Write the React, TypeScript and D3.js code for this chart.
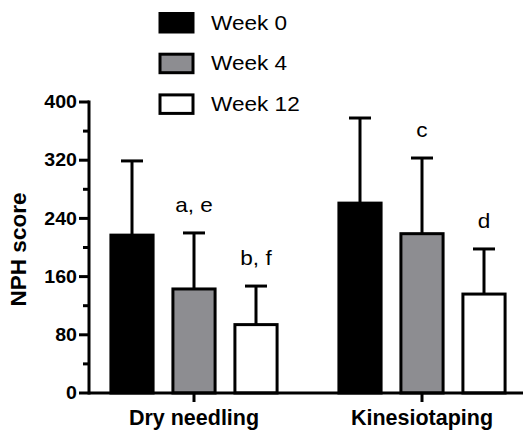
import * as d3 from "d3";

const groups = ["Dry needling", "Kinesiotaping"];
const series = ["Week 0", "Week 4", "Week 12"];
const means = [
  [217, 143, 94],
  [261, 219, 136],
];
const errTops = [
  [319, 220, 147],
  [378, 323, 198],
];
const notes = [
  ["", "a, e", "b, f"],
  ["", "c", "d"],
];
const yTicks = [0, 80, 160, 240, 320, 400];
const fills = ["#000000", "#8d8d91", "#ffffff"];

const W = 523;
const H = 432;

export default function App() {
  const y = d3.scaleLinear().domain([0, 400]).range([393, 102]);
  const x0 = d3.scaleBand<string>().domain(groups).range([80, 536]);
  const x1 = d3
    .scaleBand<string>()
    .domain(series)
    .range([-93, 93])
    .paddingInner(0.32)
    .paddingOuter(0.16);
  const minor = d3.range(40, 400, 80);
  const axisX = 89;
  const font = "Liberation Sans, Arial, Helvetica, sans-serif";

  return (
    <svg
      width={W}
      height={H}
      style={{ position: "absolute", left: 0, top: 0, background: "#fff" }}
      fontFamily={font}
    >
      {/* legend */}
      {series.map((s, i) => (
        <g key={s} transform={`translate(0, ${i * 40.7})`}>
          <rect x={160} y={13.5} width={33} height={18.5} fill={fills[i]} stroke="#000" strokeWidth={3} />
          <text transform={`translate(211, ${29.5}) scale(1.13, 1)`} fontSize={20}>
            {s}
          </text>
        </g>
      ))}

      {/* bars */}
      {groups.map((g, gi) => {
        const gx = (x0(g) ?? 0) + x0.bandwidth() / 2;
        return (
          <g key={g} transform={`translate(${gx},0)`}>
            {series.map((s, si) => {
              const bx = x1(s) ?? 0;
              const bw = x1.bandwidth();
              const cx = bx + bw / 2;
              const top = y(means[gi][si]);
              const et = y(errTops[gi][si]);
              return (
                <g key={s}>
                  <line x1={cx} x2={cx} y1={top} y2={et} stroke="#000" strokeWidth={3} />
                  <line x1={cx - 11} x2={cx + 11} y1={et} y2={et} stroke="#000" strokeWidth={3} />
                  <rect
                    x={bx}
                    y={top}
                    width={bw}
                    height={y(0) - top}
                    fill={fills[si]}
                    stroke="#000"
                    strokeWidth={3}
                  />
                  {notes[gi][si] && (
                    <text
                      transform={`translate(${cx}, ${et - 21}) scale(1.13, 1)`}
                      fontSize={20}
                      textAnchor="middle"
                    >
                      {notes[gi][si]}
                    </text>
                  )}
                </g>
              );
            })}
            <line x1={0} x2={0} y1={y(0)} y2={y(0) + 9} stroke="#000" strokeWidth={3} />
            <text y={425} textAnchor="middle" fontSize={21.5} fontWeight="bold">
              {g}
            </text>
          </g>
        );
      })}

      {/* axes */}
      <line x1={axisX} x2={W} y1={y(0)} y2={y(0)} stroke="#000" strokeWidth={3} />
      <line x1={axisX} x2={axisX} y1={y(400) - 1.5} y2={y(0) + 1.5} stroke="#000" strokeWidth={3} />
      {yTicks.map((t) => (
        <g key={t} transform={`translate(0, ${y(t)})`}>
          <line x1={axisX - 10} x2={axisX} stroke="#000" strokeWidth={3} />
          <text
            transform={`translate(${axisX - 12}, 6.2) scale(1.12, 1)`}
            textAnchor="end"
            fontSize={17.5}
            fontWeight="bold"
          >
            {t}
          </text>
        </g>
      ))}
      {minor.map((t) => (
        <line key={t} x1={axisX - 6} x2={axisX} y1={y(t)} y2={y(t)} stroke="#000" strokeWidth={3} />
      ))}
      <text
        transform={`translate(26, ${y(200) + 2}) rotate(-90)`}
        textAnchor="middle"
        fontSize={22.5}
        fontWeight="bold"
      >
        NPH score
      </text>
    </svg>
  );
}
